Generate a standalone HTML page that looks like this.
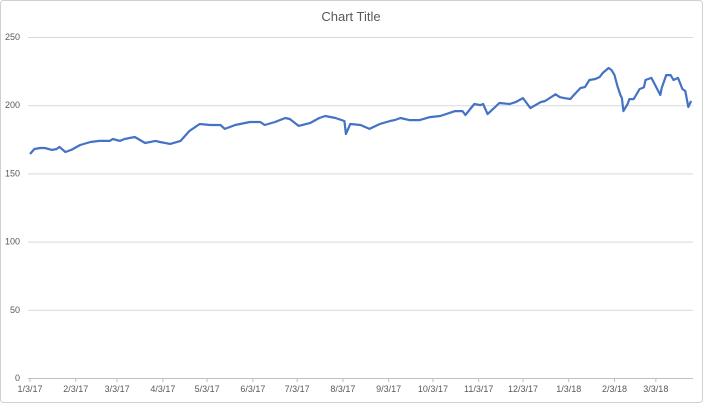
<!DOCTYPE html>
<html><head><meta charset="utf-8"><style>
body{margin:0;background:#fff;}
svg{display:block;font-family:"Liberation Sans",sans-serif;}
</style></head><body>
<svg id="chart" width="703" height="403">
<rect x="0.5" y="0.5" width="702" height="402" rx="3" fill="#fff" stroke="#d0d0d0"/>
<text x="351" y="21" text-anchor="middle" font-size="13" fill="#595959">Chart Title</text>
<g id="grid"></g><g id="yt"></g><g id="xt"></g><g id="series"></g>
</svg>
<script>
const days=[0,3,7,10,15,18,20,24,28,34,41,47,54,56,61,64,71,78,85,88,95,102,108,115,122,129,132,139,149,156,159,166,173,176,182,190,196,200,207,213,214,217,224,227,230,237,244,247,251,257,264,271,278,288,293,295,301,305,307,310,318,325,329,334,339,346,349,356,359,362,366,369,373,376,379,383,386,388,392,394,396,398,400,401,402,405,406,409,413,415,416,417,421,427,428,431,434,436,439,442,444,446,447,448];
const values=[164.2,167.9,168.6,168.6,167.2,167.9,169.4,165.7,167.2,170.8,173,173.8,173.8,175.2,173.8,175.2,176.7,172.3,173.8,173,171.6,173.8,181.1,186.2,185.5,185.5,182.6,185.5,187.7,187.7,185.5,187.7,190.6,189.9,184.8,187,190.6,192.1,190.6,188.4,178.9,186.2,185.5,184,182.6,186.2,188.4,189.1,190.6,189.1,189.1,191.3,192.1,195.7,195.7,192.8,200.9,200.1,200.9,193.5,201.6,200.9,202.3,205.2,197.9,202.3,203.1,208,205.9,205.2,204.5,208,212.6,213.3,218.5,219.2,220.7,223.6,227.3,225.8,222.1,214.1,207.5,205.2,195.7,201.1,204.5,204.5,211.9,212.6,213.3,218.5,220,207.5,212.6,222.1,222.1,218.5,220,211.9,210.4,198.7,201.1,203.1,196.5];
const yTicks=[0,50,100,150,200,250];
const xLabels=["1/3/17","2/3/17","3/3/17","4/3/17","5/3/17","6/3/17","7/3/17","8/3/17","9/3/17","10/3/17","11/3/17","12/3/17","1/3/18","2/3/18","3/3/18"];
const xTickDays=[0,31,59,90,120,151,181,212,243,273,304,334,365,396,424];
const NS="http://www.w3.org/2000/svg";
const X=d=>30+d*1.476, Y=v=>378-v*1.364;
function mk(t,a,p){const e=document.createElementNS(NS,t);for(const k in a)e.setAttribute(k,a[k]);p.appendChild(e);return e;}
const g=document.getElementById('grid'),yt=document.getElementById('yt'),xt=document.getElementById('xt'),s=document.getElementById('series');
yTicks.forEach(v=>{
 const l=mk('line',{x1:28,x2:693,y1:Y(v)+0.5,y2:Y(v)+0.5,stroke:v===0?'#bfbfbf':'#d9d9d9','stroke-width':1},g);
 
 
 const t=mk('text',{x:20,y:Y(v)+3,'text-anchor':'end','font-size':9,fill:'#595959'},yt);
 t.textContent=v;
 
 
});
xLabels.forEach((lab,i)=>{
 const x=X(xTickDays[i]);
 const tk=mk('line',{x1:x,x2:x,y1:378,y2:382,stroke:'#bfbfbf'},xt);
 
 
 const t=mk('text',{x:x,y:392,'text-anchor':'middle','font-size':9,fill:'#595959'},xt);
 t.textContent=lab;
 
 
});
const pts=days.map((d,i)=>X(d).toFixed(1)+','+Y(values[i]).toFixed(1)).join(' ');
const pl=mk('polyline',{points:pts,fill:'none',stroke:'#4472C4','stroke-width':2.2,'stroke-linejoin':'round'},s);


</script>
</body></html>
